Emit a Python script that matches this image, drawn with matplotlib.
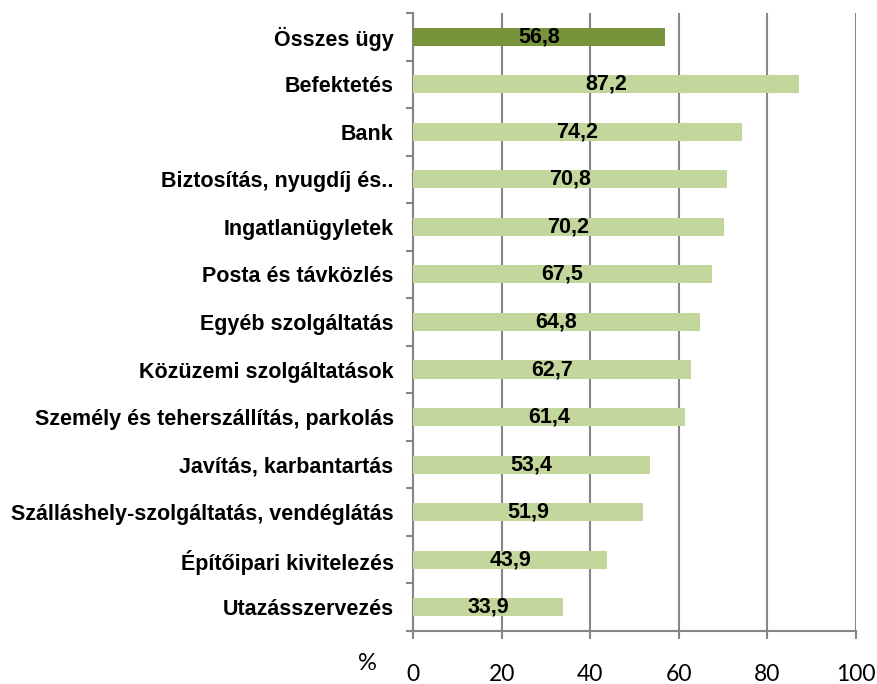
import matplotlib.pyplot as plt
import numpy as np

categories = ["Összes ügy", "Befektetés", "Bank", "Biztosítás, nyugdíj és..",
              "Ingatlanügyletek", "Posta és távközlés", "Egyéb szolgáltatás",
              "Közüzemi szolgáltatások", "Személy és teherszállítás, parkolás",
              "Javítás, karbantartás", "Szálláshely-szolgáltatás, vendéglátás",
              "Építőipari kivitelezés", "Utazásszervezés"]
values = [56.8, 87.2, 74.2, 70.8, 70.2, 67.5, 64.8, 62.7, 61.4, 53.4, 51.9, 43.9, 33.9]
xticks = [0, 20, 40, 60, 80, 100]

fig = plt.figure(figsize=(8.77, 6.84), dpi=100)
ax = fig.add_axes([0.471, 0.0775, 0.505, 0.9035])

n = len(categories)
y = np.arange(n)
colors = ["#77933C"] + ["#C3D69B"] * (n - 1)
ax.barh(y, values, height=0.38, color=colors, zorder=3)

for yi, v in zip(y, values):
    ax.text(v / 2, yi, f"{v:.1f}".replace(".", ","), ha="center", va="center",
            fontsize=15.5, fontweight="bold", family="Liberation Sans", zorder=4)

ax.set_xlim(0, 100)
ax.set_ylim(n - 0.5, -0.5)
ax.set_xticks(xticks)
ax.set_xticklabels([str(t) for t in xticks], fontsize=16.5, family="Lato")
ax.set_yticks(y)
ax.set_yticklabels(categories, fontsize=15.5, fontweight="bold", family="Liberation Sans")
ax.set_yticks(np.arange(-0.5, n, 1), minor=True)
ax.tick_params(axis="y", which="major", length=0, pad=14)
ax.tick_params(axis="y", which="minor", length=5, color="#868686", width=1.5, direction="out")
ax.tick_params(axis="x", length=6, color="#868686", width=1.5, pad=18)

ax.grid(axis="x", color="#868686", linewidth=1.5, zorder=0)
for s in ["top", "right"]:
    ax.spines[s].set_visible(False)
for s in ["left", "bottom"]:
    ax.spines[s].set_color("#868686")
    ax.spines[s].set_linewidth(1.5)

fig.text(367 / 877, 1 - 664 / 684, "%", fontsize=17, family="Lato", ha="center", va="center")

fig.savefig("out.png", dpi=100)
